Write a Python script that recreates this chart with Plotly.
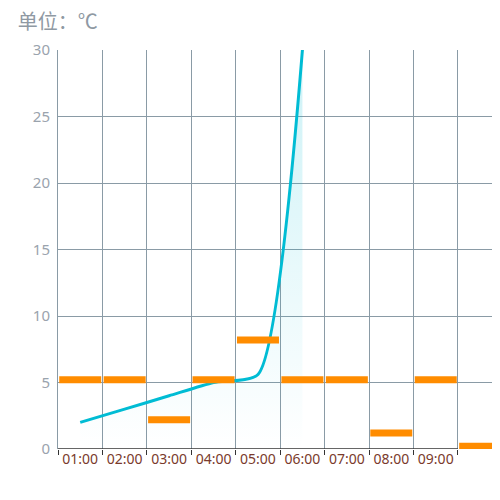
import plotly.graph_objects as go

# hourly labels on the x axis (the last slot sits past the grid, unlabeled in the view)
hours = ["01:00", "02:00", "03:00", "04:00", "05:00", "06:00", "07:00", "08:00", "09:00", "10:00"]
shown_hours = 9

# orange step values, one per hour slot
step_values = [5.2, 5.2, 2.2, 5.2, 8.2, 5.2, 5.2, 1.2, 5.2, 0.2]

# cyan temperature curve
temp_values = [2, 3, 4, 5, 5.6, 30]

ORANGE = "#ff8c00"
CYAN = "#00bcd4"
GRID = "#8a9ba6"

slots = list(range(len(hours)))
fig = go.Figure()

fig.add_trace(go.Scatter(
    x=slots[:len(temp_values)], y=temp_values, mode="lines",
    line=dict(color=CYAN, width=3, shape="spline", smoothing=0.6),
    fill="tozeroy",
    fillgradient=dict(type="vertical", start=0, stop=30,
                      colorscale=[[0, "rgba(0,188,212,0.0)"], [1, "rgba(0,188,212,0.2)"]]),
    hoverinfo="skip", showlegend=False,
))

fig.add_trace(go.Scatter(
    x=slots, y=step_values, mode="markers",
    marker=dict(symbol="line-ew", size=30, color=ORANGE,
                line=dict(color=ORANGE, width=7)),
    hoverinfo="skip", showlegend=False,
))

# hide the grid in the spare slot to the right of the last labelled hour
fig.add_shape(type="rect", xref="x", yref="paper", x0=shown_hours - 0.5 + 0.03, x1=len(hours),
              y0=-0.01, y1=1.01, fillcolor="white", line_width=0, layer="between")
# bottom axis line only under the labelled hours
fig.add_shape(type="line", xref="x", yref="y", x0=-0.5, x1=shown_hours - 0.5, y0=0, y1=0,
              line=dict(color="#333333", width=1.5), layer="above")

fig.update_layout(
    width=492, height=470,
    margin=dict(l=50, r=0, t=42, b=29),
    paper_bgcolor="white", plot_bgcolor="rgba(0,0,0,0)",
    font=dict(family="Noto Sans, Noto Sans CJK SC", size=14),
    title=dict(text="单位：℃", xref="container", yref="container", x=0.02, y=1 - 14 / 470,
               xanchor="left", yanchor="middle",
               font=dict(family="Noto Sans CJK SC", size=20, color="#8f99a3")),
)

fig.update_xaxes(
    range=[-0.5, 9.446],
    tickmode="array", tickvals=slots[:shown_hours], ticktext=hours[:shown_hours],
    ticks="", showgrid=False, zeroline=False, showline=False,
    tickfont=dict(color="#7a3a2c", size=14),
    minor=dict(tickvals=[i - 0.5 for i in range(shown_hours + 1)], ticks="outside", ticklen=5,
               tickcolor="#333333", showgrid=True, gridcolor=GRID, gridwidth=1),
)
fig.update_yaxes(
    range=[0, 30], dtick=5, showgrid=True, gridcolor=GRID, gridwidth=1,
    zeroline=False, showline=True, linecolor=GRID, linewidth=1,
    tickfont=dict(color="#9aa3ad", size=15), ticks="", ticklabelstandoff=4,
)

fig.write_html("out.html")
